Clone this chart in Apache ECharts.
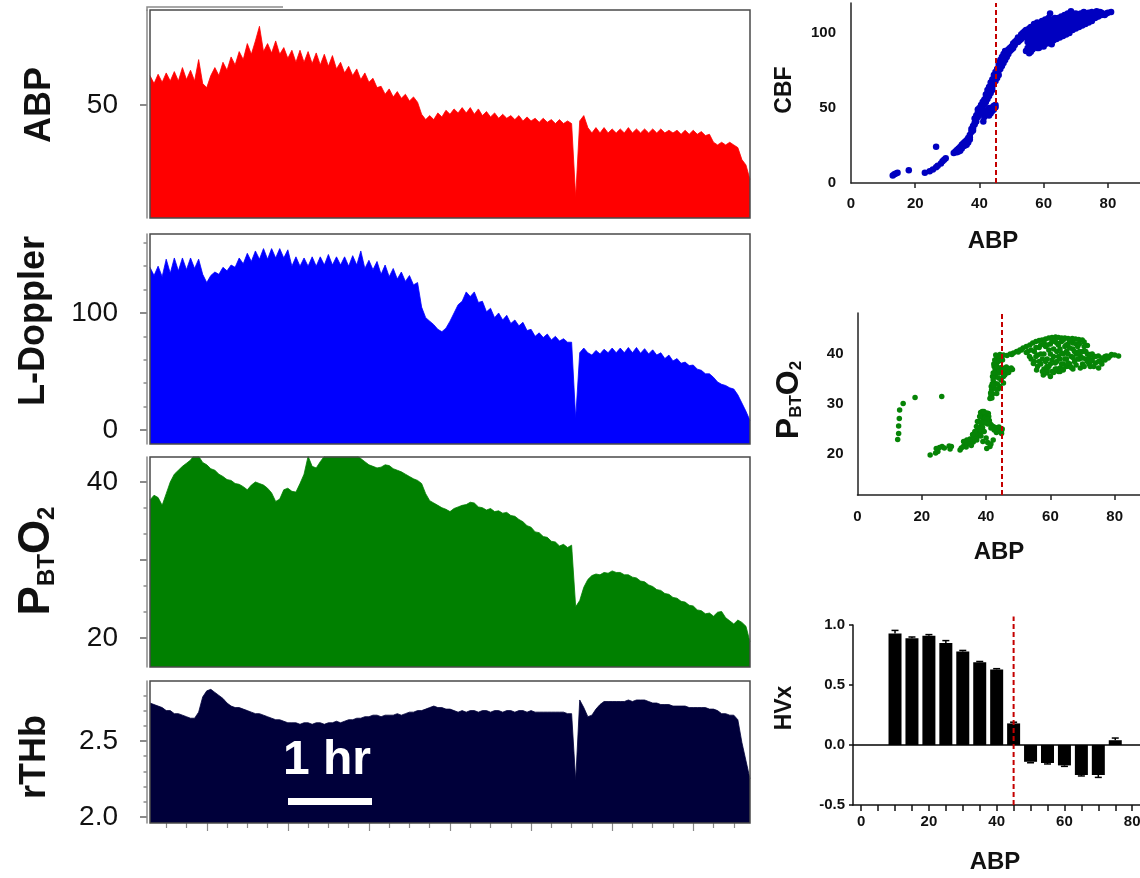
<!DOCTYPE html>
<html><head><meta charset="utf-8">
<script src="https://cdn.jsdelivr.net/npm/echarts@6/dist/echarts.min.js"></script>
<style>html,body{margin:0;padding:0;background:#fff}#c{width:1140px;height:878px}</style>
</head><body><div id="c"></div>
<script>
// ---------- DATA ----------
const sampleStepMin = 3; // minutes between samples of the time traces
const abp = [
61,58,61.5,58.5,62,59,62.5,59,64,59.5,
63,59,67,58,56.5,61,64,61,66,63,
68,65,70,67,73,69,74,79.5,70,73,
69.5,74,69,71.5,67.5,70.5,66,70.5,66,70,
65.5,69.5,65,69,64.5,68.5,63.5,66,62,64.5,
61,63.5,59.5,62,58.5,60,56.5,57,54,56,
53,55,52.5,54,51.5,53,51,46.5,44.5,46,
44.5,47,45.5,48,46.5,48.5,47,49,47,49,
46.5,48.5,46,47.5,45.5,47,45,46.5,45,46,
44.5,46,44,45.5,44,45,43.5,45,43.5,44.5,
43,44.5,43,44,43,15.5,44,46,41.5,39.5,
41.5,39.5,41.5,39.5,41,39.5,41,39.5,41.5,39.5,
41,39.5,41,39.5,41,39.5,41,39.5,40.5,39.5,
40.5,39,40.5,39,40.5,39,40,38.5,39,36,
35,36,35,36,35,34,29.5,27.5,22];
const doppler = [
139,132,140,131,146,134,147,136,147,137,
147,138,146,133,126,132,135,133,139,136,
141,139,147,142,151,144,153,146,155,146,
155,147,155,147,154,140,148,140,147,140,
148,140,148,141,150,141,148,141,148,140,
149,141,153,138,145,137,144,133,141,131,
138,129,135,127,132,124,126,105,96,93,
90,86,84,87,93,100,107,110,118,114,
118,109,110,101,104,96,100,94,98,91,
94,89,92,85,86,80,83,79,82,77,
80,76,78,75,75,10,66,70,66,64,
68,65,69,66,70,66,70,66,70.5,66,
70.5,65.5,69.5,65,68.5,64,66,61,64,59,
61,57,58,55,55.5,52,51,48,48,45,
41,39,38,36,35,30,23,16,8];
const pbto2 = [
37.7,38.3,38,37,38.5,40,41,41.5,42,42.4,
42.8,43.5,43.3,42.5,42.2,41.7,41.5,41,40.7,40.3,
40.2,39.8,39.7,39.4,39,39.6,40,39.8,39.6,39.2,
38.6,37.5,37.8,39,39.2,38.8,38.7,39.8,41,43.3,
42,41.8,42.6,43.3,43.6,43.8,43.6,43.8,43.7,43.5,
43.6,43.4,43,42.6,42.2,42,41.8,41.9,42.2,42.1,
41.7,41.5,41.3,41,40.7,40.4,40.2,39.8,38.5,37.6,
37.3,37,36.7,36.5,36.2,36.6,36.8,37,37.1,37.4,
37.3,36.8,36.7,36.4,36.6,36.2,36.3,36,36.1,35.7,
35.6,35.2,34.9,34.4,34.2,33.6,33.5,33,32.9,32.4,
32.3,31.8,32,31.6,31.9,24,24.8,26.5,27.5,28,
28.2,28.1,28.4,28.3,28.6,28.4,28.4,28.1,28.1,27.8,
27.7,27.3,27.2,26.8,26.6,26.2,26.1,25.7,25.6,25.2,
25.1,24.7,24.6,24.2,24.1,23.6,23.5,23.1,23.2,22.8,
23.3,23.4,22.6,22.2,21.8,22.3,22,21.5,19.5];
const rthb = [
2.75,2.74,2.73,2.72,2.70,2.70,2.68,2.68,2.67,2.66,
2.65,2.65,2.69,2.79,2.83,2.84,2.82,2.80,2.78,2.75,
2.73,2.72,2.72,2.71,2.70,2.69,2.68,2.68,2.67,2.66,
2.65,2.64,2.64,2.63,2.62,2.62,2.62,2.61,2.62,2.62,
2.61,2.62,2.62,2.61,2.62,2.62,2.63,2.62,2.63,2.64,
2.64,2.65,2.65,2.66,2.66,2.67,2.67,2.66,2.67,2.67,
2.67,2.68,2.67,2.68,2.69,2.69,2.70,2.70,2.71,2.72,
2.73,2.72,2.72,2.71,2.71,2.70,2.69,2.70,2.69,2.70,
2.70,2.69,2.70,2.70,2.69,2.70,2.70,2.69,2.70,2.70,
2.69,2.70,2.70,2.69,2.70,2.69,2.69,2.69,2.69,2.69,
2.69,2.69,2.69,2.68,2.68,2.24,2.77,2.72,2.66,2.67,
2.71,2.74,2.76,2.76,2.76,2.76,2.76,2.76,2.77,2.76,
2.77,2.77,2.77,2.76,2.75,2.75,2.74,2.74,2.74,2.73,
2.73,2.73,2.73,2.72,2.72,2.72,2.72,2.72,2.71,2.71,
2.70,2.68,2.68,2.67,2.67,2.64,2.49,2.37,2.25];

// CBF vs ABP scatter [ABP, CBF]
const cbfScatter = [
[13,5],[13.5,5.8],[14,6.3],[14.5,6.8],[18,8.5],[23,6.8],[24.5,7.8],[25.5,9],[26.5,10.5],[26.5,24.2],
[27,11.5],[28,13],[28.5,14.5],[29,15.5],[29.5,16.5],[32,20],[32.5,21],[33,22],[33,20.5],[33.5,23],
[34,21.5],[34,24],[34.5,25.5],[35,24.5],[35,26.5],[35.5,27.5],[36,25.5],[36,28.5],[36.5,30],[37,32],
[37,29],[37.5,34],[37.5,36],[38,38],[38,35],[38.5,40],[38.5,43],[39,45],[39,41],[39.5,47],
[39.5,49],[40,50],[40,46],[40.5,50.5],[41,49.5],[41.2,41],[41.5,44],[42,46],[42.5,47.5],[43,45],
[43.5,49],[44,50.5],[44.5,51.5],[45,50.5],[45,52],
[40.5,52],[41,54],[41.5,55.5],[42,57],[42,59],[42.5,60],[42.5,62],[43,61],[43,64],[43.5,65],
[43.5,67],[44,66],[44,69],[44.5,70],[44.5,72],[45,71],[45,74],[45.5,73],[45.5,76],[46,75],
[46,78],[46,80],[46.5,79],[46.5,82],[47,81],[47,84],[47.5,83],[47.5,86],[48,85],[48,88],
[48.5,87],[49,89],[49.5,90],[50,91],[50.5,93],[51,92],[51.5,95],[52,94],[52,97],[53,96],
[53,99],[54,98],[54,101],
[39.5,44],[40,48],[40.5,47],[41,51],[41.5,52.5],[42,54],[42.5,56],[43,58],[43.5,60],[44,62],
[44,64],[44.5,67],[45,68],[45.5,70],[46,72],[46.5,76],[47,78],[47.5,80],[48,82],[48.5,84],
[49,86],[49.5,88],[50,89],[50.5,90],[51,94],[52,96],[52.5,95],[53.5,97],[53.5,100],[54.5,99],
[54.5,102],[55,97],[36.5,27],[37,30.5],[38,36.5],[38.5,39],[39,43],[34.5,23],[35.5,25],[33.5,21],
[42,48],[43,50],[44,48],[44.5,49],[43.5,46.5],
[54.5,88],[55,90],[55,94],[55,100],[55.5,103],[56,92],[56,97],[56,101],[56,104],[56.5,89],
[57,95],[57,99],[57,103],[57,106],[57.5,92],[58,90],[58,96],[58,100],[58,104],[58,107],
[58.5,94],[59,92],[59,98],[59,102],[59,105],[59.5,108],[60,91],[60,95],[60,99],[60,103],
[60,106],[60.5,109],[61,93],[61,97],[61,101],[61,104],[61,108],[62,94],[62,98],[62,102],
[62,105],[62,113],[62.5,109],[63,95],[63,100],[63,103],[63,107],[63.5,110],[64,96],[64,100],
[64,104],[64,108],[65,97],[65,101],[65,105],[65,109],[65.5,111],[66,98],[66,102],[66,106],
[66,110],[67,99],[67,103],[67,107],[67,111],[68,100],[68,104],[68,108],[68,112],[68.5,114.5],
[69,102],[69,106],[69,110],[69,113],[70,103],[70,107],[70,111],[70,113],[71,104],[71,108],
[71,111],[72,105],[72,109],[72,112],[73,106],[73,110],[73,113],[74,107],[74,111],[74,113.5],
[75,108],[75,111],[75,114],[76,110],[76,112],[76.5,114.5],[77,111],[77,113],[78,112],[78,113.5],
[79,112],[81,114],[56,87.5],[59,91],[62.5,92.5],[55.5,86.5],
[55.5,92],[55.5,96],[56.5,93],[56.5,99],[56.5,102],[57.5,97],[57.5,101],[57.5,104],[58.5,90],[58.5,98],
[58.5,102],[58.5,106],[59.5,94],[59.5,96],[59.5,100],[59.5,104],[60.5,93],[60.5,97],[60.5,101],[60.5,105],
[61.5,95],[61.5,99],[61.5,103],[61.5,106],[61.5,110],[62.5,96],[62.5,100],[62.5,104],[62.5,107],[63.5,97],
[63.5,102],[63.5,105],[63.5,108],[64.5,98],[64.5,102],[64.5,106],[64.5,110],[65.5,99],[65.5,103],[65.5,107],
[66.5,100],[66.5,104],[66.5,108],[66.5,112],[67.5,101],[67.5,105],[67.5,109],[67.5,113],[68.5,102],[68.5,106],
[68.5,110],[69.5,104],[69.5,108],[69.5,112],[70.5,105],[70.5,109],[70.5,112],[71.5,106],[71.5,110],[71.5,113],
[72.5,107],[72.5,111],[72.5,114],[73.5,108],[73.5,112],[74.5,109],[74.5,112],[75.5,110],[75.5,113],[76.5,111],
[77.5,112],[77.5,114],[79.5,113],[80,113.5]];

// PBTO2 vs ABP scatter [ABP, PBTO2]
const pbto2Scatter = [
[12.5,22.9],[12.8,24.1],[12.8,25.6],[13,27.1],[13.1,28.8],[14.2,30.1],[17.9,31.3],[26.2,31.5],
[22.6,19.8],[24.3,20.2],[24.5,21.1],[25,20.5],[25.5,21.3],[26.3,21.5],[27,21.2],[28.5,21.6],[28.8,21],[29.2,21.5],
[31.9,20.8],[32.3,21.2],[32.9,21.5],[33.4,21.8],[33.8,21.4],[34.2,22],[34.6,22.3],[35,22.1],[35.4,21.7],[35.5,22.6],
[36,22.4],[36.2,22.9],[36.6,23.1],[37.1,22.8],[37.3,23.5],[37.6,24.2],[38.1,24.1],[38.2,25],[38.4,25.6],[38.6,25.5],
[38.8,26.2],[39.1,26.8],[39.2,27.4],[39.5,28],[39.7,28.1],[40.2,28.2],[40.7,28.1],[40.8,27.5],[41,26.7],[41.2,26.1],
[41.6,25.8],[42.2,25.5],[42.8,25.3],[43.3,25.2],[44,25.4],[44.3,25.1],[44.8,24.6],[43.2,24.3],[44.8,24.1],[42.2,22.8],
[40.2,21.1],[41.2,21.5],[40,23.2],[39,22.5],[38.4,23.6],
[33,22.5],[34,22.8],[35,23],[36,23.5],[36.8,24],[37.5,25],[37.8,26.5],[38,27.5],[38.3,28.3],[38.8,28.5],
[39.3,28.5],[37,25.5],[37.3,26.5],[36.5,24.5],[35.8,23.9],[39.8,27.2],[40.3,27],[40.5,26],[41.5,25.2],[42.5,24.8],
[43.5,24.6],[44.5,24.4],[45,25],[39.6,26.2],[38.9,25.3],[38.5,24.6],[39.4,24.5],[40.5,22.3],[41.5,22],
[41.2,31.1],[41.5,31.6],[41.8,31.2],[42,32],[41.7,32.8],[42.3,33.3],[42.2,34.8],[42.6,34.2],[42.8,35.5],[42.8,36.8],
[43,36],[42.5,37.5],[43.3,38.2],[43.3,39.5],[43.8,39.2],[44.3,39.9],[44.6,39.3],[43.3,32.1],[44.3,33.5],[45.4,34.2],
[45.4,35.5],[46.4,36.2],[47.4,36.8],[46.8,37],[44.7,34.8],[43.8,33],[45.8,35.8],[44,36.2],[43.6,37.3],
[41.4,32.2],[41.6,33.5],[41.9,34],[42,35.5],[42.2,36.2],[42.4,38],[42.7,38.8],[43,39.8],[43.6,38.5],[44,38.6],
[43.1,33],[43.5,34],[43.9,35.2],[44.2,36.8],[44.8,37.3],[45.2,36.6],[45.9,36.9],[46.3,37.4],[47,36.3],[47.8,37.2],
[48.2,36.9],[44.9,39.5],[45.1,38.8],[43.3,37.4],[42.4,33.8],
[45.4,39.8],[46.5,39.7],[47.5,40],[48.5,40.2],[49.5,40.5],[50.5,40.8],[51.5,41.2],[52.5,41.5],[53.6,41.8],[54.5,42.2],
[55.5,42.5],[56.5,42.7],[57.4,42.8],[58.5,43],[59.5,43.2],[60.5,43.3],[61.6,43.4],[62.5,43.3],[63.5,43.2],[64.5,43.2],
[65.5,43.1],[66.8,43.1],[67.8,43],[68.8,42.9],[69.9,42.8],[70.5,42.4],[71.5,41.7],
[53.5,39.5],[55,40.5],[55,38.5],[54.7,38.1],[55.7,36.8],[56,39.8],[56.5,41.3],[57,38],[57.8,35.8],[58,37],
[58,40],[58.5,41.5],[58.9,37.5],[59,39],[59.5,40.8],[60,38],[60,42],[60.5,36.5],[61,39.5],[61,41],
[61.5,37],[62,38.5],[62,40.5],[62,42.2],[63,37.2],[63,39],[63,41],[63.5,42.5],[64,38],[64,40],
[64.5,41.5],[65,37.5],[65,39],[65,40.5],[65.5,42],[66,38],[66.1,37.5],[66.5,39.5],[67,41],[67,42.2],
[67.5,38.5],[68,40],[68.5,41.5],[69,39],[69.3,37.2],[69.3,39.6],[70,40.5],[70,38],[70.5,41.5],[71,39],
[71.5,40],[72,38],[72.3,39.9],[72.4,37.5],[73,38.8],[73.5,39.5],[74,38.2],[74.9,39.6],[75,37.2],[75.5,38.5],
[76,39.2],[77,39.5],[78.6,39.6],[81.2,39.6],[60,35.5],[59,36.2],[62.5,36.5],[64,36.8],[67,37],
[54,40.8],[54,39],[55.5,41.3],[55.5,39.5],[56,37.5],[56.5,38.5],[57,40],[57,41.8],[57.5,36.5],[57.5,39],
[58,42.3],[58.5,38.5],[59,36.8],[59,41.8],[59.5,37.5],[60,40],[60.5,38.8],[60.5,42.5],[61,36.3],[61.5,38.2],
[61.5,42.5],[62,37],[62.5,39.5],[62.5,41.8],[63,36.5],[63.5,38],[63.5,40.2],[64,37],[64,42.8],[64.5,39],
[65,41.8],[65.5,38.2],[65.5,40],[66,41.2],[66,42.6],[66.5,37.3],[67,39.3],[67.5,40.5],[68,37.8],[68,42],
[68.5,39],[69,40.5],[69,42],[70,39.2],[70.5,37.5],[71,40.5],[71.5,38.5],[72,39.2],[72.5,38.5],[73,40],
[73.5,37.5],[74,39.5],[75,38.5],[76,38],[77,38.8],[77.5,39.6],[78,39.2],[79,39.9],[80,39.8],[53,40.5],
[52.5,40.3],[51,40.8],[50,40.4],[48,39.9]];

// HVx by ABP bin
const hvxBins = [10,15,20,25,30,35,40,45,50,55,60,65,70,75];
const hvxValues = [0.93,0.89,0.91,0.85,0.78,0.69,0.63,0.18,-0.14,-0.15,-0.17,-0.25,-0.25,0.04];
const hvxErrors = [0.025,0.01,0.01,0.02,0.008,0.006,0.006,0.01,0.008,0.008,0.008,0.008,0.02,0.018];
const abpLimit = 45;

// tick positions / labels
const timeMajorTicks = [42,102,162,222,282,342,402];
const timeMinorTicks = [12,27,57,72,87,117,132,147,177,192,207,237,252,267,297,312,327,357,372,387,417,432];
const abpTicks = [50];
const dopplerTicks = [0,100];
const dopplerMinorTicks = [20,40,60,80,120,140,160];
const pbto2Ticks = [20,30,40];
const pbto2Labels = [20,40];
const pbto2MinorTicks = [23.33,26.67,33.33,36.67];
const rthbTicks = [2.0,2.5];
const rthbMinorTicks = [2.1,2.2,2.3,2.4,2.6,2.7,2.8];
const scatterXLabels = [0,20,40,60,80];
const scatterXTicks = [20,40,60,80];
const cbfYLabels = [0,50,100];
const pbto2YLabels = [20,30,40];
const hvxXTicks = [0,5,10,15,20,25,30,35,40,45,50,55,60,65,70,75,80];
const hvxYTicks = [-0.5,0,0.5,1.0];

// ---------- CHART ----------
const FONT = '"Liberation Sans", Arial, Helvetica, sans-serif';
const toTime = arr => arr.map((v, i) => [i * sampleStepMin, v]);
const tMax = (abp.length - 1) * sampleStepMin;

const leftGrids = [
  {top: 10, height: 208}, {top: 234, height: 210}, {top: 457, height: 210}, {top: 681, height: 142}
];
const grids = leftGrids.map(g => ({left: 150, width: 600, top: g.top, height: g.height, outerBoundsMode: 'none'}));
grids.push({left: 851, top: 3, width: 289, height: 180, outerBoundsMode: 'none'});
grids.push({left: 857.5, top: 313, width: 282.5, height: 182, outerBoundsMode: 'none'});
grids.push({left: 853, top: 625, width: 287, height: 180, outerBoundsMode: 'none'});

const GRAY = '#8a8a8a';
function leftY(gi, min, max, ticks, labels, fmt) {
  return {
    gridIndex: gi, type: 'value', position: 'left', min, max, offset: 3,
    axisLine: {show: true, onZero: false, lineStyle: {color: GRAY, width: 1.5}},
    axisTick: {show: true, length: 7, customValues: ticks, lineStyle: {color: GRAY, width: 2}},
    axisLabel: {show: true, customValues: labels, fontSize: 28, color: '#111', fontFamily: FONT, margin: 29,
      formatter: fmt || (v => String(v))},
    splitLine: {show: false}
  };
}
function minorY(gi, min, max, ticks) {
  return {
    gridIndex: gi, type: 'value', position: 'left', min, max, offset: 3,
    axisLine: {show: false, onZero: false},
    axisTick: {show: true, length: 3.5, customValues: ticks, lineStyle: {color: GRAY, width: 1.5}},
    axisLabel: {show: false}, splitLine: {show: false}
  };
}
function timeX(gi) {
  return {gridIndex: gi, type: 'value', position: 'bottom', min: 0, max: tMax, show: false, axisLine: {onZero: false}, splitLine: {show: false}};
}
const boldLab = {fontSize: 15, fontWeight: 'bold', color: '#111', fontFamily: FONT};
const rightAxisLine = {show: true, onZero: false, lineStyle: {color: '#222', width: 1.5}};

const xAxis = [
  timeX(0), timeX(1), timeX(2),
  {gridIndex: 3, type: 'value', position: 'bottom', min: 0, max: tMax, axisLine: {show: false, onZero: false},
    axisTick: {show: true, length: 8, customValues: timeMajorTicks, lineStyle: {color: GRAY, width: 1.2}},
    axisLabel: {show: false}, splitLine: {show: false}},
  {gridIndex: 3, type: 'value', position: 'bottom', min: 0, max: tMax, axisLine: {show: false, onZero: false},
    axisTick: {show: true, length: 5, customValues: timeMinorTicks, lineStyle: {color: GRAY, width: 1.2}},
    axisLabel: {show: false}, splitLine: {show: false}},
  {gridIndex: 4, type: 'value', position: 'bottom', min: 0, max: 90, axisLine: rightAxisLine,
    axisTick: {show: true, length: 5, customValues: scatterXTicks, lineStyle: {color: '#222', width: 1.5}},
    axisLabel: Object.assign({customValues: scatterXLabels, margin: 13}, boldLab), splitLine: {show: false}},
  {gridIndex: 5, type: 'value', position: 'bottom', min: 0, max: 87.87, axisLine: rightAxisLine,
    axisTick: {show: true, length: 5, customValues: scatterXTicks, lineStyle: {color: '#222', width: 1.5}},
    axisLabel: Object.assign({customValues: scatterXLabels, margin: 14}, boldLab), splitLine: {show: false}},
  {gridIndex: 6, type: 'value', position: 'bottom', min: -2.4, max: 82.3, axisLine: {show: true, onZero: false, lineStyle: {color: '#111', width: 1.5}},
    axisTick: {show: true, length: 6, customValues: hvxXTicks, lineStyle: {color: '#111', width: 1.5}},
    axisLabel: Object.assign({customValues: scatterXLabels, margin: 9}, boldLab), splitLine: {show: false}}
];

const yAxis = [
  leftY(0, 7.6, 85.6, abpTicks, abpTicks),
  leftY(1, -12, 167.5, dopplerTicks, dopplerTicks),
  minorY(1, -12, 167.5, dopplerMinorTicks),
  leftY(2, 16.28, 43.2, pbto2Ticks, pbto2Labels),
  minorY(2, 16.28, 43.2, pbto2MinorTicks),
  leftY(3, 1.96, 2.895, rthbTicks, rthbTicks, v => v.toFixed(1)),
  minorY(3, 1.96, 2.895, rthbMinorTicks),
  {gridIndex: 4, type: 'value', position: 'left', min: 0, max: 120, axisLine: rightAxisLine, axisTick: {show: false},
    axisLabel: Object.assign({customValues: cbfYLabels, margin: 15}, boldLab), splitLine: {show: false}},
  {gridIndex: 5, type: 'value', position: 'left', min: 11.8, max: 48.2, axisLine: rightAxisLine, axisTick: {show: false},
    axisLabel: Object.assign({customValues: pbto2YLabels, margin: 14}, boldLab), splitLine: {show: false}},
  {gridIndex: 6, type: 'value', position: 'left', min: -0.5, max: 1.0, axisLine: {show: true, onZero: false, lineStyle: {color: '#111', width: 1.5}},
    axisTick: {show: true, length: 4, customValues: hvxYTicks, lineStyle: {color: '#111', width: 1.5}},
    axisLabel: Object.assign({customValues: hvxYTicks, margin: 8, formatter: v => v.toFixed(1)}, boldLab), splitLine: {show: false}}
];

function area(name, data, xi, yi, color) {
  return {name, type: 'line', xAxisIndex: xi, yAxisIndex: yi, data: toTime(data), showSymbol: false, symbol: 'none',
    smooth: false, lineStyle: {color, width: 0.8}, areaStyle: {color, opacity: 1, origin: 'start'}, z: 2};
}
const dashRed = {color: '#c40000', width: 2, type: [5, 3]};

const series = [
  area('ABP', abp, 0, 0, '#ff0000'),
  area('L-Doppler', doppler, 1, 1, '#0000ff'),
  area('PBTO2', pbto2, 2, 3, '#008000'),
  area('rTHb', rthb, 3, 5, '#00003a'),
  {type: 'scatter', xAxisIndex: 5, yAxisIndex: 7, data: cbfScatter, symbolSize: 6.5,
    itemStyle: {color: '#0000c0', opacity: 1},
    markLine: {silent: true, symbol: ['none', 'none'], label: {show: false}, lineStyle: dashRed, data: [{xAxis: abpLimit}]}},
  {type: 'scatter', xAxisIndex: 6, yAxisIndex: 8, data: pbto2Scatter, symbolSize: 5.5,
    itemStyle: {color: '#068406', opacity: 1},
    markLine: {silent: true, symbol: ['none', 'none'], label: {show: false}, lineStyle: dashRed, data: [{xAxis: abpLimit}]}},
  {type: 'bar', xAxisIndex: 7, yAxisIndex: 9, data: hvxBins.map((b, i) => [b, hvxValues[i]]), barWidth: 13,
    itemStyle: {color: '#000'},
    markLine: {silent: true, symbol: ['none', 'none'], label: {show: false},
      lineStyle: {color: '#000', width: 1.5, type: 'solid'}, data: [{yAxis: 0}]}},
  {type: 'custom', xAxisIndex: 7, yAxisIndex: 9, data: hvxBins.map((b, i) => [b, hvxValues[i], hvxErrors[i]]),
    renderItem: (params, api) => {
      const x = api.value(0), v = api.value(1), e = api.value(2);
      const end = v >= 0 ? v + e : v - e;
      const p0 = api.coord([x, v]), p1 = api.coord([x, end]);
      return {type: 'group', children: [
        {type: 'line', shape: {x1: p0[0], y1: p0[1], x2: p1[0], y2: p1[1]}, style: {stroke: '#000', lineWidth: 1.5}},
        {type: 'line', shape: {x1: p1[0] - 3.5, y1: p1[1], x2: p1[0] + 3.5, y2: p1[1]}, style: {stroke: '#000', lineWidth: 1.5}}
      ]};
    }, z: 3},
  {type: 'line', xAxisIndex: 7, yAxisIndex: 9, data: [[abpLimit, -0.5], [abpLimit, 1.07]], clip: false,
    symbol: 'none', showSymbol: false, lineStyle: dashRed, z: 5}
];

const txt = (x, y, text, size, extra) => Object.assign({type: 'text', x, y, z: 100,
  style: {text, font: 'bold ' + size + 'px ' + FONT, fill: '#111', textAlign: 'center', textVerticalAlign: 'middle'}}, extra || {});
const rot = Math.PI / 2;
const graphicEls = [];
leftGrids.forEach(g => graphicEls.push({type: 'rect', z: 100, silent: true,
  shape: {x: 150, y: g.top, width: 600, height: g.height},
  style: {fill: null, stroke: '#4a4a4a', lineWidth: 1.5}}));
graphicEls.push({type: 'polyline', z: 100, silent: true, shape: {points: [[283, 7], [147, 7], [147, 11]]},
  style: {fill: null, stroke: GRAY, lineWidth: 1.5}});
graphicEls.push({type: 'rect', z: 100, shape: {x: 288, y: 798, width: 84, height: 7}, style: {fill: '#fff'}});
graphicEls.push({type: 'text', x: 283, y: 761, z: 100,
  style: {text: '1 hr', font: 'bold 48px ' + FONT, fill: '#fff', textAlign: 'left', textVerticalAlign: 'middle'}});
graphicEls.push(txt(40, 105, 'ABP', 36, {rotation: rot}));
graphicEls.push(txt(34, 321, 'L-Doppler', 36, {rotation: rot}));
graphicEls.push(txt(35, 757, 'rTHb', 36, {rotation: rot}));
graphicEls.push({type: 'text', x: 37, y: 561, z: 100, rotation: rot,
  style: {text: '{b|P}{s|BT}{b|O}{s|2}', textAlign: 'center', textVerticalAlign: 'middle',
    rich: {b: {font: 'bold 44px ' + FONT, fill: '#111', lineHeight: 44, verticalAlign: 'bottom'},
           s: {font: 'bold 24px ' + FONT, fill: '#111', lineHeight: 20, verticalAlign: 'bottom'}}}});
graphicEls.push(txt(784.5, 90, 'CBF', 23, {rotation: rot}));
graphicEls.push(txt(784.5, 708, 'HVx', 23, {rotation: rot}));
graphicEls.push({type: 'text', x: 789, y: 400, z: 100, rotation: rot,
  style: {text: '{b|P}{s|BT}{b|O}{s|2}', textAlign: 'center', textVerticalAlign: 'middle',
    rich: {b: {font: 'bold 32px ' + FONT, fill: '#111', lineHeight: 32, verticalAlign: 'bottom'},
           s: {font: 'bold 17px ' + FONT, fill: '#111', lineHeight: 14, verticalAlign: 'bottom'}}}});
graphicEls.push(txt(993, 241, 'ABP', 24));
graphicEls.push(txt(999, 552, 'ABP', 24));
graphicEls.push(txt(995, 862, 'ABP', 24));

const chart = echarts.init(document.getElementById('c'), null, {renderer: 'canvas'});
chart.setOption({
  animation: false,
  backgroundColor: '#fff',
  grid: grids, xAxis, yAxis, series,
  graphic: {elements: graphicEls}
});
</script></body></html>
